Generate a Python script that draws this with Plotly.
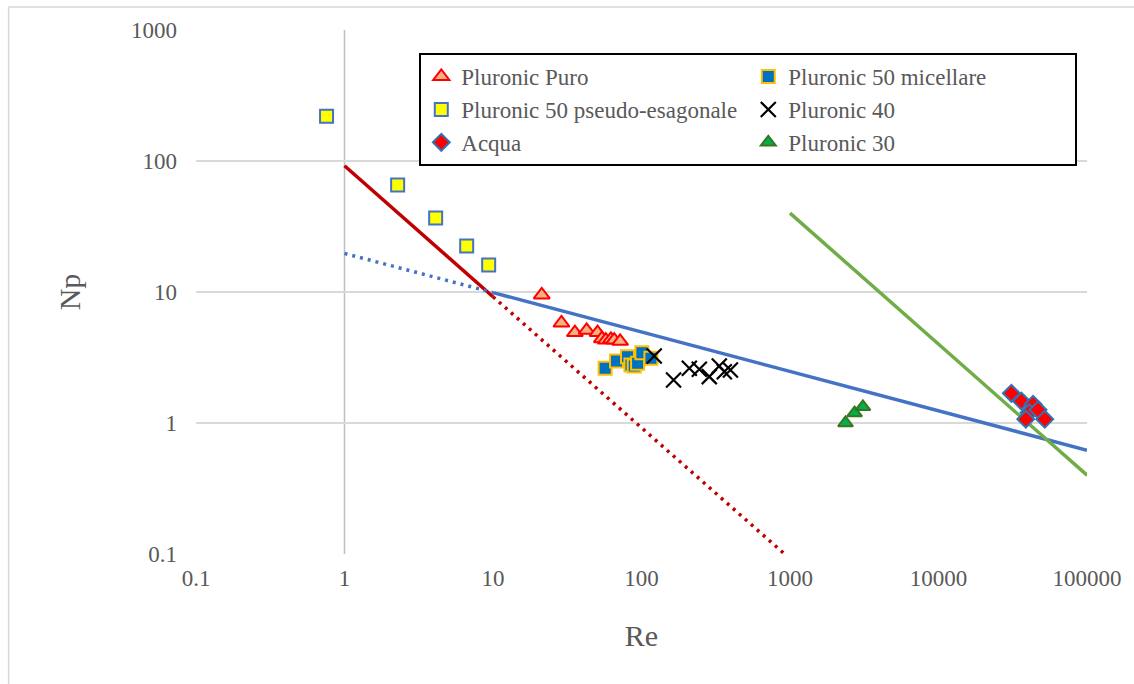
import plotly.graph_objects as go

# --- measured series (Re, Np) ---
puro_re = [21.3, 28.9, 35.6, 42.7, 50.6, 54.1, 57.5, 62.2, 65.5, 71.8]
puro_np = [9.5, 5.8, 4.9, 5.1, 4.9, 4.4, 4.3, 4.35, 4.3, 4.2]

mic_re = [56.9, 67.9, 80.5, 84.9, 89.3, 94.1, 100.6, 115.7]
mic_np = [2.62, 2.97, 3.2, 2.77, 2.72, 2.86, 3.44, 3.12]

pseudo_re = [0.757, 2.28, 4.11, 6.65, 9.35]
pseudo_np = [220, 65.6, 36.7, 22.4, 16.1]

p40_re = [121.9, 164.4, 209.9, 245, 286, 334, 361, 397]
p40_np = [3.25, 2.13, 2.62, 2.57, 2.26, 2.72, 2.46, 2.54]

acqua_re = [30960, 36140, 43350, 40740, 46770, 38730, 51980]
acqua_np = [1.685, 1.47, 1.39, 1.2, 1.26, 1.07, 1.07]

p30_re = [2365, 2722, 3097]
p30_np = [1.0, 1.19, 1.33]

# --- correlation lines (end points) ---
lam_re = [1, 10]
lam_np = [92, 9.2]
lam_ext_re = [10, 920]
lam_ext_np = [9.2, 0.1]

trans_ext_re = [1, 10]
trans_ext_np = [19.7, 9.9]
trans_re = [10, 100000]
trans_np = [9.9, 0.62]

turb_re = [1000, 100000]
turb_np = [40, 0.4]

# axis ticks
x_ticks = [0.1, 1, 10, 100, 1000, 10000, 100000]
y_ticks = [0.1, 1, 10, 100, 1000]
x_ticktext = ["0.1", "1", "10", "100", "1000", "10000", "100000"]
y_ticktext = ["0.1", "1", "10", "100", "1000"]

FONT = "Liberation Serif"
GRAY = "#595959"

fig = go.Figure()

# fitted lines (no legend entries)
fig.add_trace(go.Scatter(x=lam_re, y=lam_np, mode="lines",
                         line=dict(color="#C00000", width=3.5), showlegend=False, hoverinfo="skip"))
fig.add_trace(go.Scatter(x=lam_ext_re, y=lam_ext_np, mode="lines",
                         line=dict(color="#C00000", width=3.5, dash="3px,5px"), showlegend=False, hoverinfo="skip"))
fig.add_trace(go.Scatter(x=trans_ext_re, y=trans_ext_np, mode="lines",
                         line=dict(color="#4472C4", width=3.5, dash="3px,5px"), showlegend=False, hoverinfo="skip"))
fig.add_trace(go.Scatter(x=trans_re, y=trans_np, mode="lines",
                         line=dict(color="#4472C4", width=3.5), showlegend=False, hoverinfo="skip"))
fig.add_trace(go.Scatter(x=turb_re, y=turb_np, mode="lines",
                         line=dict(color="#70AD47", width=3.5), showlegend=False, hoverinfo="skip"))

# experimental points, ordered for the two-column legend
fig.add_trace(go.Scatter(x=puro_re, y=puro_np, mode="markers", name="Pluronic Puro",
                         marker=dict(symbol="triangle-up", size=14, color="#F4B183",
                                     line=dict(color="#FF0000", width=2))))
fig.add_trace(go.Scatter(x=mic_re, y=mic_np, mode="markers", name="Pluronic 50 micellare",
                         marker=dict(symbol="square", size=13, color="#0070C0",
                                     line=dict(color="#FFC000", width=2))))
fig.add_trace(go.Scatter(x=pseudo_re, y=pseudo_np, mode="markers", name="Pluronic 50 pseudo-esagonale",
                         marker=dict(symbol="square", size=13, color="#FFFF00",
                                     line=dict(color="#4472C4", width=2))))
fig.add_trace(go.Scatter(x=p40_re, y=p40_np, mode="markers", name="Pluronic 40",
                         marker=dict(symbol="x-thin", size=15, color="black",
                                     line=dict(color="black", width=2.2))))
fig.add_trace(go.Scatter(x=acqua_re, y=acqua_np, mode="markers", name="Acqua",
                         marker=dict(symbol="diamond", size=13, color="#FF0000",
                                     line=dict(color="#2E75B6", width=2))))
fig.add_trace(go.Scatter(x=p30_re, y=p30_np, mode="markers", name="Pluronic 30",
                         marker=dict(symbol="triangle-up", size=13, color="#00B050",
                                     line=dict(color="#38761D", width=2))))

fig.update_layout(
    width=1134, height=684,
    margin=dict(l=196, r=44, t=30, b=130),
    paper_bgcolor="white", plot_bgcolor="white",
    font=dict(family=FONT, color=GRAY),
    legend=dict(
        orientation="h", x=0.2506, y=0.956, xanchor="left", yanchor="top",
        entrywidth=282, entrywidthmode="pixels",
        font=dict(family=FONT, size=23, color=GRAY),
        bordercolor="black", borderwidth=2, bgcolor="white",
        tracegroupgap=0, itemwidth=30,
    ),
    xaxis=dict(
        type="log", range=[-1, 5], tickvals=x_ticks, ticktext=x_ticktext,
        showgrid=False, showline=False, zeroline=False, ticks="",
        tickfont=dict(family=FONT, size=23, color=GRAY), ticklabelstandoff=8,
        title=dict(text="Re", font=dict(family=FONT, size=30, color=GRAY), standoff=34),
    ),
    yaxis=dict(
        type="log", range=[-1, 3], tickvals=y_ticks, ticktext=y_ticktext,
        showgrid=True, gridcolor="#D9D9D9", gridwidth=1.5,
        showline=False, zeroline=False, ticks="",
        tickfont=dict(family=FONT, size=23, color=GRAY), ticklabelstandoff=18,
        title=dict(text="Np", font=dict(family=FONT, size=30, color=GRAY), standoff=41),
    ),
    shapes=[
        # vertical axis crossing at Re = 1
        dict(type="line", xref="x", yref="paper", x0=1, x1=1, y0=0, y1=1,
             line=dict(color="#BFBFBF", width=1.5), layer="below"),
        # outer chart frame
        dict(type="rect", xref="paper", yref="paper", x0=-0.2103, x1=1.06, y0=-0.27, y1=1.0439,
             line=dict(color="#D9D9D9", width=1.5), layer="below"),
    ],
)

fig.write_html("out.html")
